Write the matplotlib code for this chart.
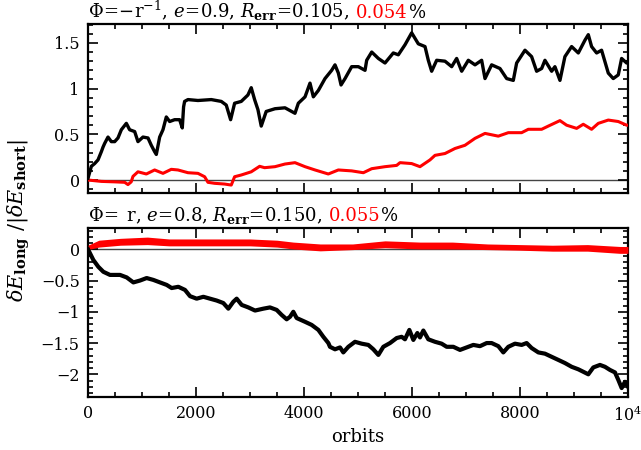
"""Energy error drift: long vs short runs (two potentials)"""

import matplotlib

matplotlib.use("Agg")
import matplotlib.pyplot as plt
from matplotlib.ticker import FixedLocator, FixedFormatter, MultipleLocator

plt.rcParams["font.family"] = ["DejaVu Serif"]
plt.rcParams["mathtext.fontset"] = "dejavuserif"

# --- top panel: Phi = -1/r, e = 0.9 -------------------------------------
top_black_orbit = [0, 62, 123, 185, 247, 278, 308, 370, 432, 494, 555, 617,
                   710, 771, 864, 925, 1018, 1111, 1172, 1234, 1265, 1327,
                   1388, 1450, 1512, 1604, 1697, 1746, 1770, 1789, 1851, 2036,
                   2283, 2468, 2560, 2641, 2715, 2838, 2961, 3023, 3085, 3147,
                   3208, 3300, 3463, 3648, 3833, 3895, 4019, 4111, 4173, 4266,
                   4389, 4512, 4574, 4636, 4686, 4760, 4883, 5006, 5130, 5161,
                   5254, 5377, 5500, 5654, 5747, 5871, 5994, 6117, 6241, 6302,
                   6364, 6457, 6611, 6735, 6827, 6920, 7043, 7167, 7290, 7352,
                   7475, 7629, 7753, 7876, 7938, 8092, 8215, 8308, 8401, 8462,
                   8586, 8647, 8740, 8832, 8956, 9080, 9203, 9265, 9326, 9419,
                   9511, 9635, 9727, 9820, 9882, 9975, 10000]
top_black_val = [0.02, 0.15, 0.18, 0.22, 0.31, 0.36, 0.40, 0.47, 0.42, 0.42,
                 0.46, 0.55, 0.62, 0.55, 0.53, 0.42, 0.47, 0.46, 0.38, 0.31,
                 0.28, 0.47, 0.55, 0.69, 0.64, 0.66, 0.66, 0.57, 0.80, 0.86,
                 0.88, 0.87, 0.88, 0.86, 0.82, 0.66, 0.84, 0.86, 0.93, 1.01,
                 0.88, 0.77, 0.59, 0.75, 0.78, 0.79, 0.73, 0.84, 0.91, 1.06,
                 0.91, 0.98, 1.11, 1.20, 1.26, 1.17, 1.04, 1.11, 1.24, 1.24,
                 1.20, 1.31, 1.40, 1.33, 1.28, 1.39, 1.37, 1.48, 1.61, 1.49,
                 1.46, 1.31, 1.19, 1.31, 1.30, 1.24, 1.33, 1.19, 1.31, 1.26,
                 1.31, 1.11, 1.26, 1.22, 1.11, 1.09, 1.28, 1.42, 1.35, 1.19,
                 1.22, 1.31, 1.19, 1.24, 1.09, 1.35, 1.46, 1.39, 1.53, 1.59,
                 1.46, 1.39, 1.42, 1.17, 1.11, 1.15, 1.33, 1.28, 1.30]

top_red_orbit = [0, 247, 494, 679, 740, 800, 833, 925, 1080, 1234, 1388, 1542,
                 1666, 1851, 2036, 2160, 2221, 2345, 2530, 2653, 2715, 2838,
                 3023, 3178, 3270, 3463, 3648, 3833, 4019, 4204, 4450, 4636,
                 4883, 5099, 5254, 5500, 5716, 5778, 5994, 6148, 6333, 6426,
                 6611, 6796, 6981, 7167, 7352, 7598, 7784, 8030, 8154, 8401,
                 8524, 8740, 8863, 9049, 9172, 9326, 9450, 9635, 9820, 9975,
                 10000]
top_red_val = [0.0, -0.015, -0.02, -0.025, -0.05, -0.02, 0.04, 0.09, 0.066,
               0.11, 0.073, 0.117, 0.11, 0.08, 0.073, 0.036, -0.025, -0.036,
               -0.044, -0.055, 0.036, 0.055, 0.09, 0.15, 0.135, 0.146, 0.175,
               0.19, 0.146, 0.11, 0.066, 0.11, 0.10, 0.08, 0.124, 0.146, 0.16,
               0.19, 0.18, 0.146, 0.22, 0.27, 0.29, 0.345, 0.38, 0.456, 0.51,
               0.48, 0.518, 0.518, 0.555, 0.555, 0.59, 0.65, 0.60, 0.565,
               0.61, 0.555, 0.62, 0.656, 0.64, 0.60, 0.60]

# --- bottom panel: Phi = r, e = 0.8 --------------------------------------
bot_black_orbit = [0, 98, 191, 284, 407, 593, 716, 840, 963, 1086, 1210,
                   1333, 1457, 1549, 1673, 1796, 1889, 2012, 2136, 2259, 2383,
                   2506, 2599, 2691, 2753, 2846, 2969, 3093, 3247, 3370, 3494,
                   3586, 3679, 3741, 3802, 3864, 4019, 4142, 4266, 4358, 4451,
                   4481, 4574, 4667, 4728, 4821, 4944, 5068, 5191, 5284, 5377,
                   5469, 5593, 5716, 5808, 5870, 5951, 6025, 6099, 6148, 6210,
                   6302, 6426, 6549, 6642, 6765, 6889, 7012, 7136, 7259, 7383,
                   7475, 7599, 7691, 7784, 7907, 8031, 8123, 8216, 8340, 8463,
                   8586, 8710, 8833, 8957, 9080, 9173, 9265, 9358, 9481, 9574,
                   9666, 9759, 9821, 9883, 9944, 10000]
bot_black_val = [0.0, -0.17, -0.28, -0.36, -0.41, -0.41, -0.45, -0.53, -0.50,
                 -0.46, -0.49, -0.53, -0.57, -0.62, -0.60, -0.65, -0.75,
                 -0.79, -0.76, -0.79, -0.82, -0.86, -0.95, -0.84, -0.79,
                 -0.89, -0.93, -0.98, -0.95, -0.93, -0.97, -1.05, -1.12,
                 -1.08, -1.00, -1.10, -1.16, -1.21, -1.29, -1.40, -1.50,
                 -1.56, -1.60, -1.57, -1.65, -1.56, -1.48, -1.51, -1.53,
                 -1.60, -1.69, -1.56, -1.50, -1.42, -1.40, -1.44, -1.29,
                 -1.45, -1.34, -1.41, -1.30, -1.44, -1.48, -1.51, -1.56,
                 -1.56, -1.61, -1.57, -1.53, -1.55, -1.50, -1.50, -1.55,
                 -1.65, -1.56, -1.51, -1.53, -1.50, -1.58, -1.65, -1.67,
                 -1.72, -1.77, -1.82, -1.88, -1.92, -1.96, -2.00, -1.89,
                 -1.85, -1.88, -1.93, -1.97, -2.09, -2.22, -2.12, -2.20]

# red curve oscillates fast; kept as its lower / upper envelope
bot_red_orbit = [0, 200, 600, 1100, 1500, 2000, 2500, 3000, 3500, 3800,
                 4300, 4900, 5500, 6150, 6750, 7400, 8000, 8600, 9250, 9850,
                 10000]
bot_red_low = [-0.005, 0.035, 0.065, 0.075, 0.055, 0.055, 0.055, 0.055, 0.035,
               0.005, -0.025, -0.005, 0.025, 0.005, 0.005, -0.005, -0.015,
               -0.03, -0.03, -0.065, -0.065]
bot_red_high = [0.065, 0.145, 0.175, 0.195, 0.165, 0.165, 0.165, 0.165, 0.145,
                0.115, 0.085, 0.085, 0.135, 0.115, 0.115, 0.085, 0.075, 0.065,
                0.075, 0.045, 0.045]

x_ticks = [0, 2000, 4000, 6000, 8000, 10000]
x_labels = ["0", "2000", "4000", "6000", "8000", r"10$^4$"]

TITLE_FS = 13
TICK_FS = 11.5


def style_axes(ax):
    """PGPLOT風の枠と目盛り"""
    for sp in ax.spines.values():
        sp.set_linewidth(1.6)
    ax.set_xlim(0, 10000)
    ax.xaxis.set_major_locator(FixedLocator(x_ticks))
    ax.xaxis.set_minor_locator(MultipleLocator(500))
    ax.yaxis.set_minor_locator(MultipleLocator(0.1))
    ax.tick_params(which="both", direction="in", top=True, right=True,
                   width=1.2, labelsize=TICK_FS)
    ax.tick_params(which="major", length=7, pad=6)
    ax.tick_params(which="minor", length=3.5)
    ax.axhline(0, color="#444444", linewidth=1.0, zorder=1)


def colored_title(fig, ax, black_part, red_part, y, gap=0.012):
    t1 = ax.text(0.0, y, black_part, transform=ax.transAxes, ha="left",
                 va="baseline", fontsize=TITLE_FS)
    fig.canvas.draw()
    r = fig.canvas.get_renderer()
    inv = ax.transAxes.inverted()
    x1 = inv.transform(t1.get_window_extent(r))[1][0] + gap
    t2 = ax.text(x1, y, red_part, transform=ax.transAxes, ha="left",
                 va="baseline", fontsize=TITLE_FS, color="red")
    fig.canvas.draw()
    x2 = inv.transform(t2.get_window_extent(r))[1][0] + 0.002
    ax.text(x2, y, "%", transform=ax.transAxes, ha="left", va="baseline",
            fontsize=TITLE_FS)


fig = plt.figure(figsize=(6.41, 4.5), dpi=100)
ax_top = fig.add_axes([0.1373, 0.5711, 0.8424, 0.3756])
ax_bot = fig.add_axes([0.1373, 0.1178, 0.8424, 0.3756])

# 上段
style_axes(ax_top)
ax_top.plot(top_red_orbit, top_red_val, color="red", linewidth=2.2, zorder=3)
ax_top.plot(top_black_orbit, top_black_val, color="black", linewidth=2.4,
            zorder=4)
ax_top.set_ylim(-0.142, 1.707)
ax_top.yaxis.set_major_locator(FixedLocator([0, 0.5, 1, 1.5]))
ax_top.yaxis.set_major_formatter(FixedFormatter(["0", "0.5", "1", "1.5"]))
ax_top.tick_params(labelbottom=False)

# 下段
style_axes(ax_bot)
ax_bot.fill_between(bot_red_orbit, bot_red_low, bot_red_high, color="red",
                    linewidth=0, zorder=3)
ax_bot.plot(bot_black_orbit, bot_black_val, color="black", linewidth=3.0,
            zorder=4)
ax_bot.set_ylim(-2.363, 0.341)
ax_bot.yaxis.set_major_locator(FixedLocator([-2, -1.5, -1, -0.5, 0]))
ax_bot.yaxis.set_major_formatter(
    FixedFormatter(["\u22122", "\u22121.5", "\u22121", "\u22120.5", "0"]))
ax_bot.xaxis.set_major_formatter(FixedFormatter(x_labels))

colored_title(fig, ax_top,
              r"$\Phi\!=\!{-}\mathrm{r}^{-1}$, $e\!=\!0.9$, "
              r"$R_{\mathbf{err}}\!=\!0.105$,", "0.054", 1.035)
colored_title(fig, ax_bot,
              r"$\Phi\!=\;\mathrm{r}$, $e\!=\!0.8$, "
              r"$R_{\mathbf{err}}\!=\!0.150$,", "0.055", 1.04)

fig.text(0.03, 0.51,
         r"$\delta E_{\mathbf{long}}\ /|\delta E_{\mathbf{short}}|$",
         rotation=90, ha="center", va="center", fontsize=15)
fig.text(0.558, 0.03, "orbits", ha="center", va="center", fontsize=13)

fig.savefig("out.png", dpi=100)
plt.close(fig)
